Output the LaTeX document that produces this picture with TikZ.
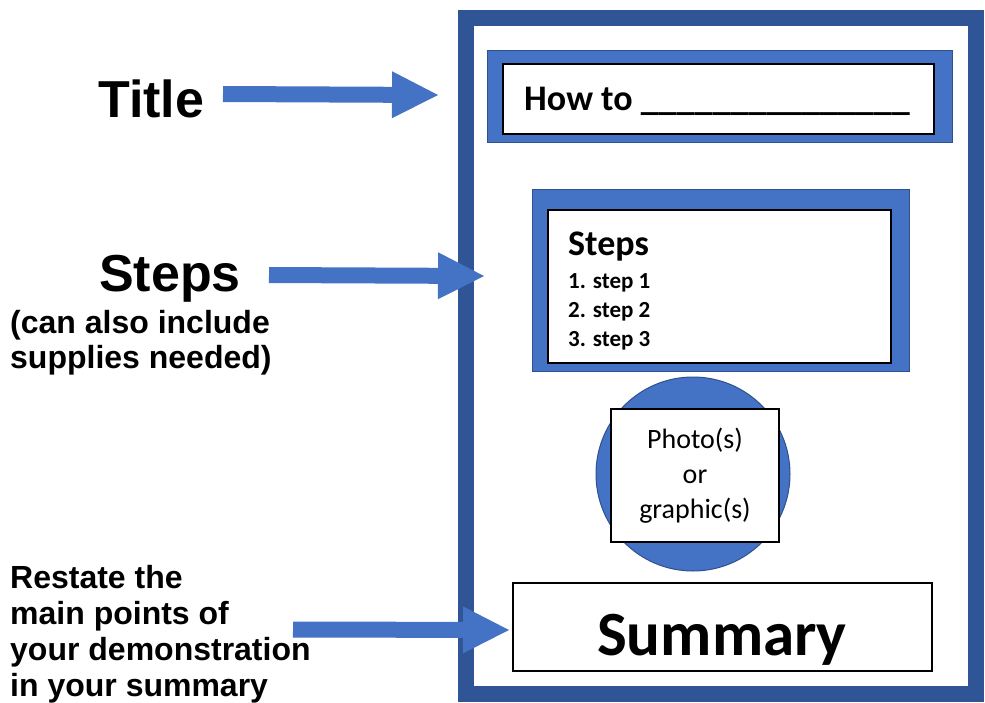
\documentclass[tikz,border=0pt]{standalone}
\usepackage{fontspec}
\newfontfamily\calibri{Carlito}
\newfontfamily\arial{Liberation Sans}
\usetikzlibrary{arrows.meta}
\definecolor{pageblue}{HTML}{2F5597}
\definecolor{boxblue}{HTML}{4472C4}
\definecolor{edgeblue}{HTML}{2F528F}

\tikzset{
  bluebox/.style={draw=edgeblue, fill=boxblue, line width=1pt, inner sep=0pt},
  whitebox/.style={draw=black, fill=white, line width=1.2pt, inner sep=0pt},
  pointer/.style={color=boxblue, line width=16pt, -{Triangle[length=46pt, width=47pt, line width=0pt]}},
  lbl/.style={anchor=base west, inner sep=0pt},
}

\begin{document}
\begin{tikzpicture}[x=1pt, y=-1pt]
\useasboundingbox (0,0) rectangle (985,702);

%\node (page) at (721,355.75) {};
\begin{scope}
    \node[draw=pageblue, line width=16pt, minimum width=510pt, minimum height=675.5pt] (page) at (721,355.75) {};

    \node[bluebox, minimum width=465pt, minimum height=92pt] (titleframe) at (719.5,96) {};
    \node[whitebox, minimum width=431pt, minimum height=70pt] (titlebox) at (718.5,99) {};
    \node[lbl, font=\calibri\bfseries\fontsize{36}{43}\selectfont] (howto) at (524,110) {How to \_\_\_\_\_\_\_\_\_\_\_\_\_\_\_};

    \node[bluebox, minimum width=377pt, minimum height=182pt] (stepsframe) at (720.5,280) {};
    \node[whitebox, minimum width=343pt, minimum height=153pt] (stepsbox) at (719.5,286.5) {};
    \node[lbl, font=\calibri\bfseries\fontsize{36}{43}\selectfont] (stepshead) at (568,255) {Steps};
    \node[lbl, font=\calibri\bfseries\fontsize{23}{28}\selectfont] (step1) at (568,288) {1. step 1};
    \node[lbl, font=\calibri\bfseries\fontsize{23}{28}\selectfont] (step2) at (568,317) {2. step 2};
    \node[lbl, font=\calibri\bfseries\fontsize{23}{28}\selectfont] (step3) at (568,346) {3. step 3};

    \node[bluebox, circle, minimum size=194pt] (photoring) at (693,474) {};
    \node[whitebox, minimum width=168pt, minimum height=133pt] (photobox) at (695,475.5) {};
    \node[anchor=base, inner sep=0pt, font=\calibri\fontsize{28}{34}\selectfont] (photo1) at (695,448) {Photo(s)};
    \node[anchor=base, inner sep=0pt, font=\calibri\fontsize{28}{34}\selectfont] (photo2) at (695,483) {or};
    \node[anchor=base, inner sep=0pt, font=\calibri\fontsize{28}{34}\selectfont] (photo3) at (695,518) {graphic(s)};

    \node[whitebox, minimum width=419pt, minimum height=88pt] (summarybox) at (722.5,627) {};
    \node[anchor=base, inner sep=0pt, font=\calibri\bfseries\fontsize{63}{75}\selectfont] (summary) at (722,655) {Summary};

    \node[lbl, font=\arial\bfseries\fontsize{52}{60}\selectfont] (titlelbl) at (98,117) {Title};
    \node[lbl, font=\arial\bfseries\fontsize{52}{60}\selectfont] (stepslbl) at (99,291) {Steps};
    \node[lbl, font=\arial\bfseries\fontsize{32}{36}\selectfont] (note1) at (10,333) {(can also include};
    \node[lbl, font=\arial\bfseries\fontsize{32}{36}\selectfont] (note2) at (10,368) {supplies needed)};
    \node[lbl, font=\arial\bfseries\fontsize{32}{36}\selectfont] (restate1) at (10,588) {Restate the};
    \node[lbl, font=\arial\bfseries\fontsize{32}{36}\selectfont] (restate2) at (10,624) {main points of};
    \node[lbl, font=\arial\bfseries\fontsize{32}{36}\selectfont] (restate3) at (10,660) {your demonstration};
    \node[lbl, font=\arial\bfseries\fontsize{32}{36}\selectfont] (restate4) at (10,696) {in your summary};
\end{scope}

\coordinate (titletail) at (223,94);
\coordinate (titletip) at (438,95);
\coordinate (stepstail) at (269,275);
\coordinate (stepstip) at (484,276);
\coordinate (summarytail) at (293,629.5);
\coordinate (summarytip) at (509,630);

\begin{scope}
    \draw [pointer] (titletail) -- (titletip);
    \draw [pointer] (stepstail) -- (stepstip);
    \draw [pointer] (summarytail) -- (summarytip);
\end{scope}
\end{tikzpicture}
\end{document}
